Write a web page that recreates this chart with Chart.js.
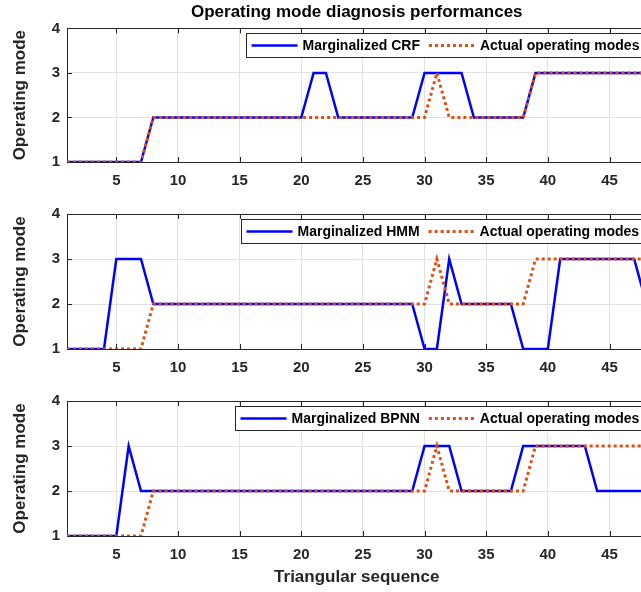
<!DOCTYPE html>
<html>
<head>
<meta charset="utf-8">
<title>Operating mode diagnosis performances</title>
<script src="https://cdn.jsdelivr.net/npm/chart.js@4.4.1/dist/chart.umd.min.js"></script>
<style>
  html, body { margin: 0; padding: 0; background: #fff; overflow: hidden; }
  #wrap { position: relative; width: 660px; height: 592px; }
  .panel { position: absolute; left: 0; width: 660px; }
</style>
</head>
<body>
<div id="wrap">
  <div class="panel" style="top:0;height:195px"><canvas id="c1"></canvas></div>
  <div class="panel" style="top:195px;height:187px"><canvas id="c2"></canvas></div>
  <div class="panel" style="top:382px;height:210px"><canvas id="c3"></canvas></div>
</div>
<script>
// data (x = triangular sequence index 1..48)
const sequence = [];
for (let i = 1; i <= 48; i++) sequence.push(i);

const actualModes = [1,1,1,1,1,1,1,2,2,2, 2,2,2,2,2,2,2,2,2,2, 2,2,2,2,2,2,2,2,2,2, 3,2,2,2,2,2,2,2,3,3, 3,3,3,3,3,3,3,3];
const crfModes    = [1,1,1,1,1,1,1,2,2,2, 2,2,2,2,2,2,2,2,2,2, 3,3,2,2,2,2,2,2,2,3, 3,3,3,2,2,2,2,2,3,3, 3,3,3,3,3,3,3,3];
const hmmModes    = [1,1,1,1,3,3,3,2,2,2, 2,2,2,2,2,2,2,2,2,2, 2,2,2,2,2,2,2,2,2,1, 1,3,2,2,2,2,2,1,1,1, 3,3,3,3,3,3,3,2];
const bpnnModes   = [1,1,1,1,1,3,2,2,2,2, 2,2,2,2,2,2,2,2,2,2, 2,2,2,2,2,2,2,2,2,3, 3,3,2,2,2,2,2,3,3,3, 3,3,3,2,2,2,2,2];

const xTicks = [5, 10, 15, 20, 25, 30, 35, 40, 45];
const yTicks = [1, 2, 3, 4];

const FONT = '"Liberation Sans", Arial, Helvetica, sans-serif';
const AXIS = '#262626';
Chart.defaults.font.family = FONT;

// MATLAB-like box with inward ticks
const boxFrame = {
  id: 'boxFrame',
  beforeDatasetsDraw(chart) {
    const ctx = chart.ctx, a = chart.chartArea;
    const xs = chart.scales.x, ys = chart.scales.y;
    ctx.save();
    ctx.strokeStyle = AXIS;
    ctx.lineWidth = 1;
    ctx.beginPath();
    xTicks.forEach(v => {
      const px = Math.round(xs.getPixelForValue(v)) + 0.5;
      ctx.moveTo(px, a.bottom); ctx.lineTo(px, a.bottom - 5);
      ctx.moveTo(px, a.top); ctx.lineTo(px, a.top + 5);
    });
    yTicks.forEach(v => {
      const py = Math.round(ys.getPixelForValue(v)) + 0.5;
      ctx.moveTo(a.left, py); ctx.lineTo(a.left + 5, py);
    });
    ctx.stroke();
    ctx.strokeRect(Math.round(a.left) + 0.5, Math.round(a.top) + 0.5,
                   Math.round(a.right - a.left), Math.round(a.bottom - a.top));
    ctx.restore();
  }
};

// boxed legend in the top right corner of the axes
const boxLegend = {
  id: 'boxLegend',
  afterDatasetsDraw(chart) {
    const ctx = chart.ctx, a = chart.chartArea;
    const sets = chart.data.datasets;
    const sample = 46, pad = 5, gap = 5, itemGap = 9, h = 24;
    ctx.save();
    ctx.font = 'bold 14px ' + FONT;
    let w = pad;
    sets.forEach((d, i) => {
      w += sample + gap + ctx.measureText(d.label).width + (i < sets.length - 1 ? itemGap : pad);
    });
    const right = a.right - 3;
    const left = Math.round(right - w) + 0.5;
    const top = Math.round(a.top + 5) + 0.5;
    ctx.fillStyle = '#fff';
    ctx.fillRect(left, top, w, h);
    ctx.strokeStyle = AXIS;
    ctx.lineWidth = 1;
    ctx.strokeRect(left, top, w, h);
    let x = left + pad;
    const cy = top + h / 2;
    sets.forEach(d => {
      ctx.beginPath();
      ctx.strokeStyle = d.borderColor;
      ctx.lineWidth = d.borderWidth;
      ctx.setLineDash(d.borderDash || []);
      ctx.moveTo(x, cy); ctx.lineTo(x + sample, cy);
      ctx.stroke();
      ctx.setLineDash([]);
      x += sample + gap;
      ctx.fillStyle = '#000';
      ctx.textBaseline = 'middle';
      ctx.fillText(d.label, x, cy + 1);
      x += ctx.measureText(d.label).width + itemGap;
    });
    ctx.restore();
  }
};

function makePanel(id, modelLabel, modelData, opt) {
  return new Chart(document.getElementById(id), {
    type: 'line',
    data: {
      labels: sequence,
      datasets: [{
        label: modelLabel,
        data: modelData,
        borderColor: '#0000ff',
        borderWidth: 2.5,
        pointRadius: 0,
        tension: 0,
        order: 1
      }, {
        label: 'Actual operating modes',
        data: actualModes,
        borderColor: '#d95319',
        borderWidth: 3,
        borderDash: [3, 3],
        borderCapStyle: 'butt',
        pointRadius: 0,
        tension: 0,
        order: 0
      }]
    },
    options: {
      responsive: true,
      maintainAspectRatio: false,
      animation: false,
      devicePixelRatio: 1,
      layout: { padding: { top: opt.padTop, left: 0, right: 13.5, bottom: 0 } },
      plugins: {
        legend: { display: false },
        tooltip: { enabled: false },
        title: {
          display: !!opt.title,
          text: opt.title || '',
          fullSize: false,
          color: '#000',
          font: { size: 17, weight: 'bold' },
          padding: { top: 2, bottom: 6 }
        }
      },
      scales: {
        x: {
          type: 'linear',
          min: 1, max: 48,
          afterBuildTicks: s => { s.ticks = xTicks.map(v => ({ value: v })); },
          afterFit: s => { s.height = opt.xHeight; },
          grid: { color: '#e1e1e1', drawTicks: false },
          border: { display: false },
          ticks: { color: AXIS, autoSkip: false, maxRotation: 0, padding: 10,
                   font: { size: 15, weight: 'bold' } },
          title: {
            display: !!opt.xTitle,
            text: opt.xTitle || '',
            color: AXIS,
            font: { size: 17, weight: 'bold' },
            padding: { top: 0, bottom: 4 }
          }
        },
        y: {
          min: 1, max: 4,
          afterBuildTicks: s => { s.ticks = yTicks.map(v => ({ value: v })); },
          afterFit: s => { s.width = 67; },
          grid: { color: '#e1e1e1', drawTicks: false },
          border: { display: false },
          ticks: { color: AXIS, padding: 7, font: { size: 15, weight: 'bold' } },
          title: {
            display: true,
            text: 'Operating mode',
            color: AXIS,
            font: { size: 17, weight: 'bold' },
            padding: { top: 10, bottom: 0 }
          }
        }
      }
    },
    plugins: [boxFrame, boxLegend]
  });
}

makePanel('c1', 'Marginalized CRF', crfModes,
  { title: 'Operating mode diagnosis performances', padTop: 0, xHeight: 33 });
makePanel('c2', 'Marginalized HMM', hmmModes, { padTop: 19, xHeight: 33 });
makePanel('c3', 'Marginalized BPNN', bpnnModes,
  { padTop: 19, xHeight: 56, xTitle: 'Triangular sequence' });
</script>
</body>
</html>
